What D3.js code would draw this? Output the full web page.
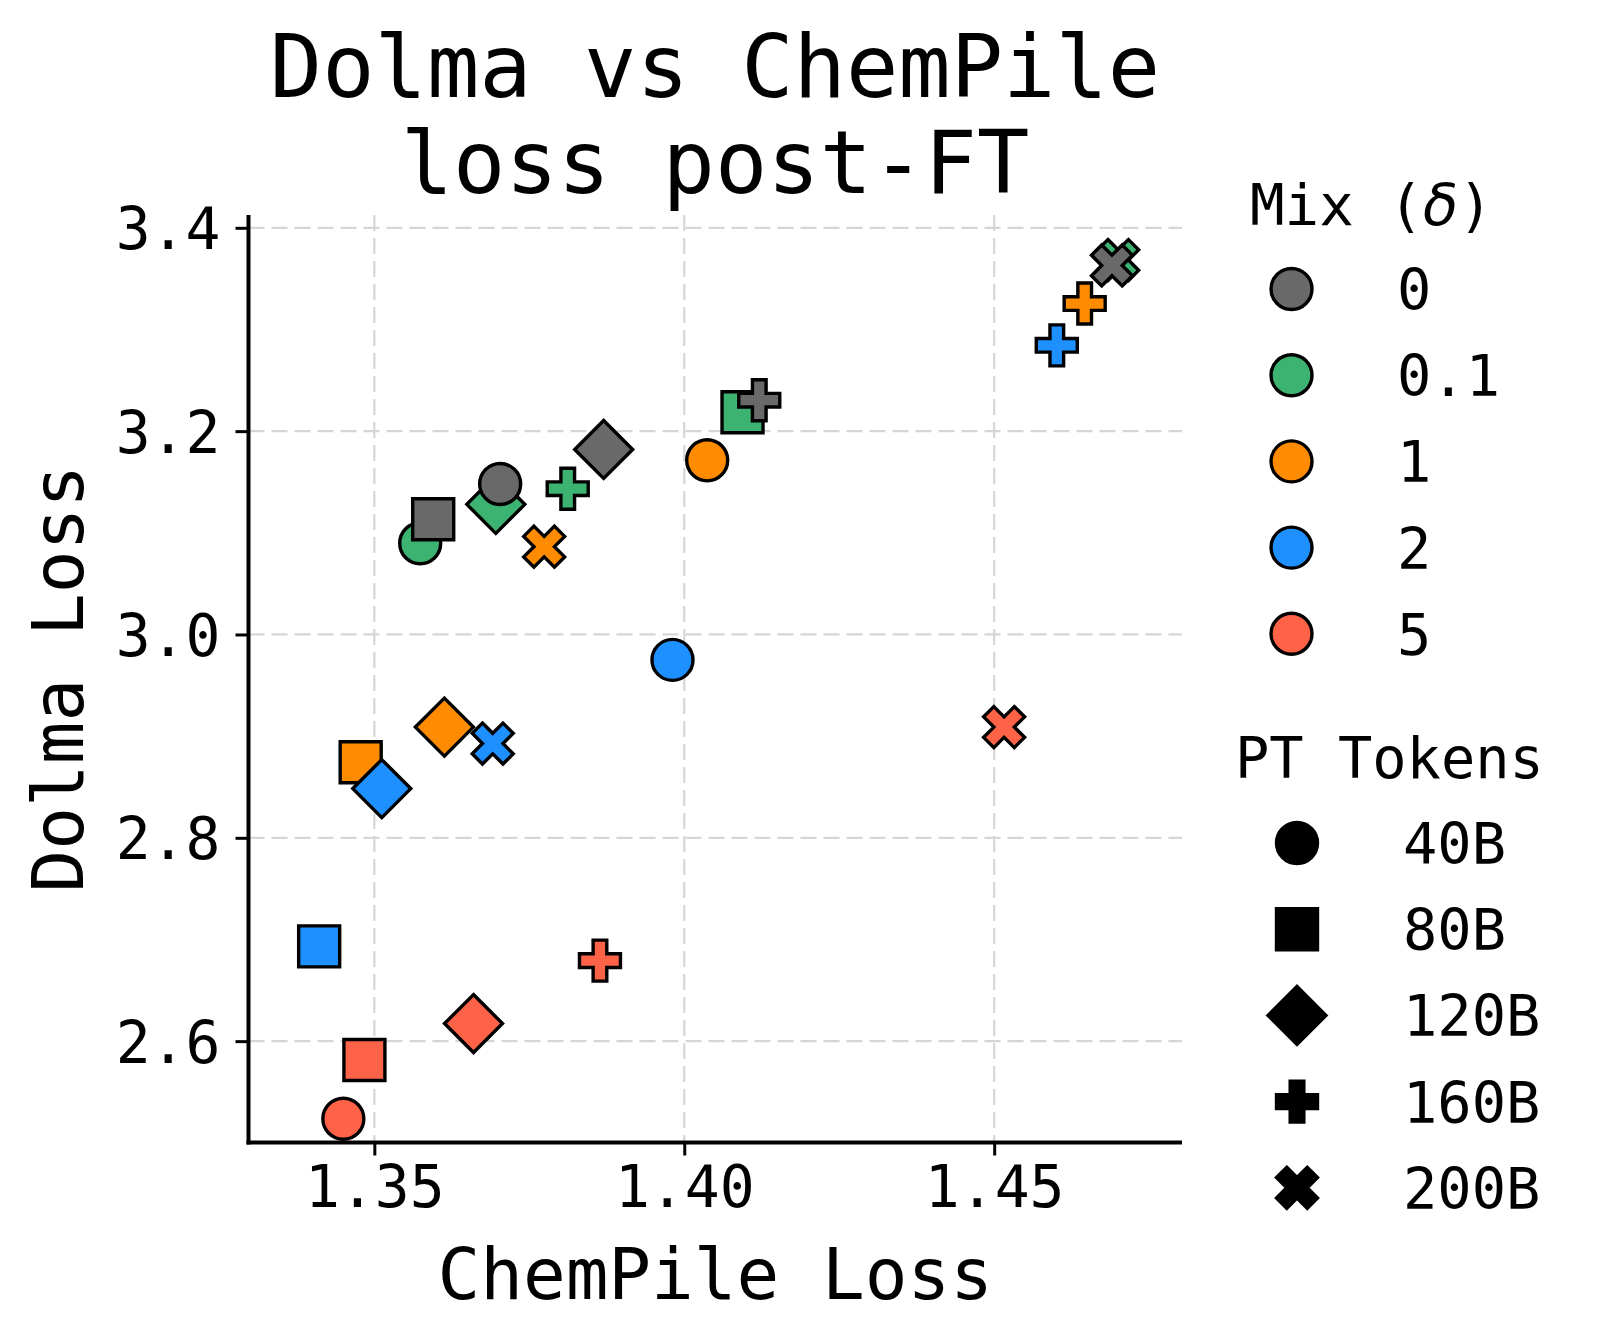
<!DOCTYPE html>
<html>
<head>
<meta charset="utf-8">
<script src="https://cdn.jsdelivr.net/npm/d3@7"></script>
<style>
  html, body { margin: 0; padding: 0; background: #fff; }
  svg { display: block; }
  text { font-family: "DejaVu Sans Mono", monospace; fill: #000; }
</style>
</head>
<body>
<svg id="chart" width="1602" height="1344"></svg>
<script>
// ---- Data ----
const mixes = ["0", "0.1", "1", "2", "5"];
const mixColors = ["#696969", "#3CB371", "#FF8C00", "#1E90FF", "#FF6347"];
const tokens = ["40B", "80B", "120B", "160B", "200B"];
const tokenMarkers = ["circle", "square", "diamond", "plus", "x"];
// ChemPile loss per mix, ordered by tokens (40B, 80B, 120B, 160B, 200B)
const chemMix0   = [1.3703, 1.3595, 1.3870, 1.4121, 1.4690];
const chemMix01  = [1.3574, 1.4094, 1.3696, 1.3812, 1.4700];
const chemMix1   = [1.4037, 1.3478, 1.3613, 1.4646, 1.3774];
const chemMix2   = [1.3981, 1.3411, 1.3512, 1.4601, 1.3691];
const chemMix5   = [1.3450, 1.3484, 1.3660, 1.3864, 1.4516];
// Dolma loss per mix
const dolmaMix0  = [3.1480, 3.1133, 3.1820, 3.2304, 3.3630];
const dolmaMix01 = [3.0897, 3.2186, 3.1280, 3.1434, 3.3683];
const dolmaMix1  = [3.1713, 2.8743, 2.9089, 3.3255, 3.0864];
const dolmaMix2  = [2.9750, 2.6932, 2.8484, 3.2844, 2.8927];
const dolmaMix5  = [2.5236, 2.5815, 2.6173, 2.6792, 2.9089];
const xTicks = [1.35, 1.40, 1.45];
const yTicks = [2.6, 2.8, 3.0, 3.2, 3.4];
const chemByMix = [chemMix0, chemMix01, chemMix1, chemMix2, chemMix5];
const dolmaByMix = [dolmaMix0, dolmaMix01, dolmaMix1, dolmaMix2, dolmaMix5];
const drawOrder = [1, 0, 2, 3, 4];

// ---- Layout ----
const svg = d3.select("#chart");
const pL = 248.5, pR = 1182, pT = 215, pB = 1142.5;
const x = d3.scaleLinear().domain([1.3297, 1.4803]).range([pL, pR]);
const y = d3.scaleLinear().domain([2.5003, 3.4126]).range([pB, pT]);
const S = 41; // marker size
const SW = 3.4;

function markerPath(type, s) {
  const h = s / 2;
  const p = d3.path();
  if (type === "circle") {
    p.arc(0, 0, h, 0, 2 * Math.PI);
  } else if (type === "square") {
    p.rect(-h, -h, s, s);
  } else if (type === "diamond") {
    const d = s * Math.SQRT2 / 2;
    p.moveTo(0, -d); p.lineTo(d, 0); p.lineTo(0, d); p.lineTo(-d, 0); p.closePath();
  } else if (type === "plus") {
    const pts = [[1/3,0],[2/3,0],[2/3,1/3],[1,1/3],[1,2/3],[2/3,2/3],[2/3,1],[1/3,1],[1/3,2/3],[0,2/3],[0,1/3],[1/3,1/3]];
    pts.forEach((q, i) => { const px = (q[0]-0.5)*s, py = (q[1]-0.5)*s; i ? p.lineTo(px, py) : p.moveTo(px, py); });
    p.closePath();
  } else if (type === "x") {
    const pts = [[0.25,0],[0.5,0.25],[0.75,0],[1,0.25],[0.75,0.5],[1,0.75],[0.75,1],[0.5,0.75],[0.25,1],[0,0.75],[0.25,0.5],[0,0.25]];
    pts.forEach((q, i) => { const px = (q[0]-0.5)*s, py = (q[1]-0.5)*s; i ? p.lineTo(px, py) : p.moveTo(px, py); });
    p.closePath();
  }
  return p.toString();
}

// ---- Grid ----
const grid = svg.append("g");
grid.selectAll("line.gx").data(xTicks).join("line")
  .attr("x1", d => x(d)).attr("x2", d => x(d)).attr("y1", pT).attr("y2", pB)
  .attr("stroke", "#d6d6d6").attr("stroke-width", 2.2).attr("stroke-dasharray", "16,7");
grid.selectAll("line.gy").data(yTicks).join("line")
  .attr("y1", d => y(d)).attr("y2", d => y(d)).attr("x1", pL).attr("x2", pR)
  .attr("stroke", "#d6d6d6").attr("stroke-width", 2.2).attr("stroke-dasharray", "16,7");

// ---- Axes ----
const xAxis = svg.append("g").attr("transform", `translate(0,${pB})`)
  .call(d3.axisBottom(x).tickValues(xTicks).tickFormat(d3.format(".2f")).tickSize(13).tickPadding(10));
const yAxis = svg.append("g").attr("transform", `translate(${pL},0)`)
  .call(d3.axisLeft(y).tickValues(yTicks).tickFormat(d3.format(".1f")).tickSize(13).tickPadding(15));
[xAxis, yAxis].forEach(a => {
  a.select(".domain").remove();
  a.selectAll(".tick line").attr("stroke", "#000").attr("stroke-width", 3);
  a.selectAll(".tick text").attr("font-size", 58).attr("font-family", "DejaVu Sans Mono").attr("fill", "#000");
});
xAxis.selectAll(".tick text").attr("dy", "0.71em");
yAxis.selectAll(".tick text").attr("dy", "0.36em");
svg.append("line").attr("x1", pL).attr("x2", pL).attr("y1", pT).attr("y2", pB + 2)
  .attr("stroke", "#000").attr("stroke-width", 4);
svg.append("line").attr("x1", pL - 2).attr("x2", pR).attr("y1", pB).attr("y2", pB)
  .attr("stroke", "#000").attr("stroke-width", 4);

// ---- Points ----
const ptsG = svg.append("g");
drawOrder.forEach(mi => {
  tokens.forEach((t, ti) => {
    ptsG.append("path")
      .attr("d", markerPath(tokenMarkers[ti], S))
      .attr("transform", `translate(${x(chemByMix[mi][ti])},${y(dolmaByMix[mi][ti])})`)
      .attr("fill", mixColors[mi]).attr("stroke", "#000").attr("stroke-width", SW)
      .attr("stroke-linejoin", "miter");
  });
});

// ---- Titles ----
svg.append("text").attr("x", 715).attr("y", 97).attr("text-anchor", "middle")
  .attr("font-size", 87).text("Dolma vs ChemPile");
svg.append("text").attr("x", 715).attr("y", 193).attr("text-anchor", "middle")
  .attr("font-size", 87).text("loss post-FT");
svg.append("text").attr("x", (pL + pR) / 2).attr("y", 1299).attr("text-anchor", "middle")
  .attr("font-size", 71).text("ChemPile Loss");
svg.append("text").attr("transform", `translate(83,${(pT + pB) / 2}) rotate(-90)`)
  .attr("text-anchor", "middle").attr("font-size", 71).text("Dolma Loss");

// ---- Legend: Mix ----
const mixTitle = svg.append("text").attr("x", 1250).attr("y", 225).attr("font-size", 57.5);
mixTitle.append("tspan").text("Mix (");
mixTitle.append("tspan").attr("font-family", "DejaVu Sans").attr("font-style", "italic").text("δ");
mixTitle.append("tspan").text(")");
mixes.forEach((m, i) => {
  const cy = 289 + i * 86.2;
  svg.append("path").attr("d", markerPath("circle", S))
    .attr("transform", `translate(1291.5,${cy})`)
    .attr("fill", mixColors[i]).attr("stroke", "#000").attr("stroke-width", SW);
  svg.append("text").attr("x", 1397).attr("y", cy + 21).attr("font-size", 57).text(m);
});

// ---- Legend: PT Tokens ----
svg.append("text").attr("x", 1235).attr("y", 778).attr("font-size", 57).text("PT Tokens");
tokens.forEach((t, i) => {
  const cy = 843 + i * 86.2;
  svg.append("path").attr("d", markerPath(tokenMarkers[i], S))
    .attr("transform", `translate(1297,${cy})`)
    .attr("fill", "#000").attr("stroke", "#000").attr("stroke-width", SW);
  svg.append("text").attr("x", 1403).attr("y", cy + 21).attr("font-size", 57).text(t);
});
</script>
</body>
</html>
